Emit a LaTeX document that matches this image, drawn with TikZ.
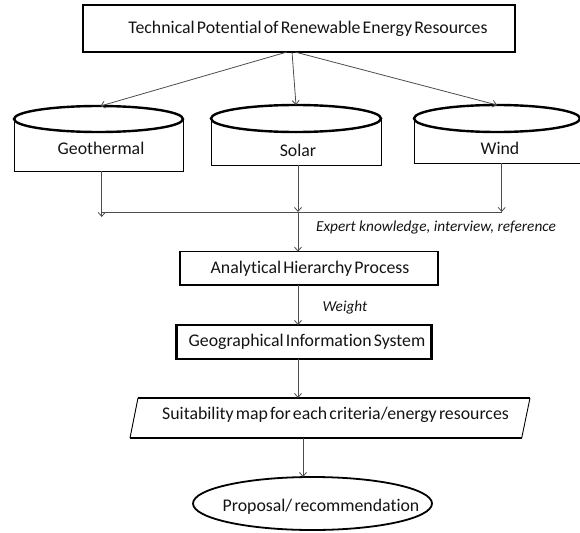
\documentclass[tikz,border=0pt]{standalone}
\usepackage{fontspec}
\setmainfont{Carlito}[Ligatures=NoCommon, WordSpace=0.55]
\newfontfamily\lblfam{Carlito}[Ligatures=NoCommon]
\usetikzlibrary{arrows.meta,shapes.geometric}
\begin{document}
\begin{tikzpicture}[x=1pt,y=-1pt,
  txt/.style={font=\fontsize{17.8}{20}\selectfont, inner sep=0pt, text=black!92},
  lbl/.style={font=\lblfam\fontsize{15.3}{18}\selectfont\itshape, inner sep=0pt, text=black!92},
  frame/.style={draw=none, inner sep=0pt, outer sep=0pt},
  heavy/.style={draw=black, line width=2.4pt},
  medium/.style={draw=black, line width=1.4pt},
  light/.style={draw=black, line width=0.9pt},
  arr/.style={draw=black!70, line width=0.8pt, -{Straight Barb[length=4pt,width=7pt]}},
  conn/.style={draw=black!70, line width=0.8pt}
]
\useasboundingbox (0,0) rectangle (580,532);

% top box
\node[frame, heavy, minimum width=432pt, minimum height=47pt] (top) at (299,28.5) {};
\node[txt] (topT) at (308,29) {Technical Potential of Renewable Energy Resources};

% cylinders (bodies)
\node[frame, minimum width=169pt, minimum height=52pt] (geo) at (98.5,145) {};
\node[frame, minimum width=170pt, minimum height=46.5pt] (sol) at (296,141.75) {};
\node[frame, minimum width=166pt, minimum height=44.5pt] (win) at (497,140.75) {};
\draw[light] (geo.north west) -- (geo.south west) -- (geo.south east) -- (geo.north east);
\draw[light] (sol.north west) -- (sol.south west) -- (sol.south east) -- (sol.north east);
\draw[light] (win.north west) -- (win.south west) -- (win.south east) -- (win.north east);
\draw[heavy, fill=white] (geo.north) ellipse [x radius=84.5pt, y radius=13pt];
\draw[heavy, fill=white] (sol.north) ellipse [x radius=85pt, y radius=13.5pt];
\draw[heavy, fill=white] (win.north) ellipse [x radius=83pt, y radius=13.5pt];
\node[txt] (geoT) at (101,148) {Geothermal};
\node[txt] (solT) at (298,150) {Solar};
\node[txt] (winT) at (500,148) {Wind};

% arrows from top box
\draw[arr] ([xshift=-12pt]top.south) -- ([xshift=2pt,yshift=13pt]geo.north);
\draw[arr] ([xshift=-7pt]top.south) -- ([yshift=13.5pt]sol.north);
\draw[arr] ([xshift=-4pt]top.south) -- ([yshift=13.5pt]win.north);

% junction
\coordinate (jL) at (101.7,212);
\coordinate (jM) at (298,212);
\coordinate (jR) at (501.7,212);
\draw[arr] (geo.south -| jL) -- ([yshift=-5pt]jL);
\draw[arr] (sol.south -| jM) -- (jM);
\draw[arr] (win.south -| jR) -- (jR);
\draw[conn] (jL) -- (jR);

% AHP
\node[frame, medium, minimum width=258pt, minimum height=33.3pt] (ahp) at (309,268.3) {};
\node[txt] (ahpT) at (310,269) {Analytical Hierarchy Process};
\draw[arr] (jM) -- (jM |- ahp.north);
\node[lbl] (expert) at (436,227) {Expert knowledge, interview, reference};

% GIS
\node[frame, heavy, minimum width=255pt, minimum height=34pt] (gis) at (304,342) {};
\node[txt] (gisT) at (307,341.7) {Geographical Information System};
\draw[arr] (ahp.south -| jM) -- (jM |- gis.north);
\node[lbl] (weight) at (345,307) {Weight};

% suitability map parallelogram
\coordinate (mTL) at (138,398);
\coordinate (mTR) at (530,398);
\coordinate (mBR) at (521.7,438);
\coordinate (mBL) at (130,438);
\node[frame, minimum width=392pt, minimum height=40pt] (map) at (330,418) {};
\draw[heavy] (mTL) -- (mTR);
\draw[heavy] (mBL) -- (mBR);
\draw[light] (mTL) -- (mBL);
\draw[light] (mTR) -- (mBR);
\node[txt] (mapT) at (335.5,415) {Suitability map for each criteria/energy resources};
\draw[arr] (gis.south -| jM) -- (jM |- map.north);

% proposal ellipse
\node[frame, draw=black, line width=1.8pt, ellipse, minimum width=239pt, minimum height=53pt] (prop) at (312.5,503.5) {};
\node[txt] (propT) at (321,507) {Proposal/ recommendation};
\draw[arr] ([xshift=5pt]map.south -| jM) -- ([xshift=5pt]jM |- prop.north);

\end{tikzpicture}
\end{document}
